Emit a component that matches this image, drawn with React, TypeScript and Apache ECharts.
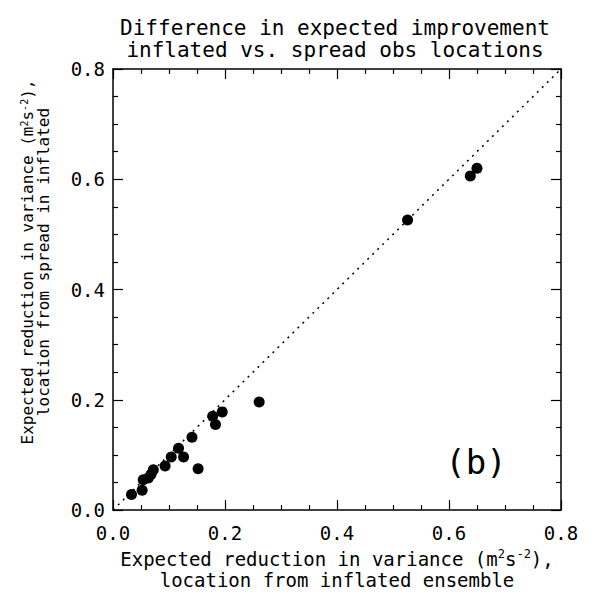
import React, { useEffect, useRef } from "react";
import * as echarts from "echarts";

const titleLines = ["Difference in expected improvement", "inflated vs. spread obs locations"];
const xAxisName = ["{n|Expected reduction in variance (m}{sup|2}{n|s}{sup|-2}{n|),}", "{n|location from inflated ensemble}"];
const yAxisName = ["{n|Expected reduction in variance (m}{sup|2}{n|s}{sup|-2}{n|),}", "{n|location from spread in inflated}"];
const panelLabel = "(b)";

// x: inflated ensemble, y: spread in inflated
const xValues = [0.033, 0.052, 0.054, 0.063, 0.068, 0.072, 0.093, 0.104, 0.117, 0.126, 0.141, 0.152, 0.178, 0.183, 0.195, 0.261, 0.526, 0.638, 0.65];
const yValues = [0.028, 0.036, 0.055, 0.058, 0.065, 0.073, 0.080, 0.096, 0.112, 0.096, 0.132, 0.075, 0.170, 0.155, 0.178, 0.196, 0.526, 0.606, 0.620];
const diagonal = [[0, 0], [0.8, 0.8]];
const axisMin = 0;
const axisMax = 0.8;
const axisInterval = 0.2;

const FONT = "DejaVu Sans Mono";

export default function App() {
  const ref = useRef<HTMLDivElement>(null);
  useEffect(() => {
    if (!ref.current) return;
    const chart = echarts.init(ref.current, undefined, { renderer: "svg" });
    const baseAxis = {
      type: "value" as const,
      min: axisMin,
      max: axisMax,
      interval: axisInterval,
      splitLine: { show: false },
      axisLine: { show: true, onZero: false, lineStyle: { color: "#000", width: 1.5 } },
      axisTick: { show: true, inside: true, length: 10, lineStyle: { color: "#000", width: 1.2 } },
      minorTick: { show: true, splitNumber: 4, length: 5, lineStyle: { color: "#000", width: 1.2 } },
      minorSplitLine: { show: false },
    };
    const labelStyle = {
      color: "#000",
      fontFamily: FONT,
      fontSize: 19,
      formatter: (v: number) => v.toFixed(1),
    };
    const richX = {
      n: { fontFamily: FONT, fontSize: 19, lineHeight: 21, color: "#000" },
      sup: { fontFamily: FONT, fontSize: 12, lineHeight: 21, color: "#000", verticalAlign: "top" as const },
    };
    const richY = {
      n: { fontFamily: FONT, fontSize: 16, lineHeight: 16, fill: "#000" },
      sup: { fontFamily: FONT, fontSize: 10, lineHeight: 16, fill: "#000", verticalAlign: "top" as const },
    };
    chart.setOption({
      animation: false,
      backgroundColor: "#fff",
      title: {
        text: titleLines.join("\n"),
        left: 330,
        top: 12,
        textAlign: "center",
        textStyle: { fontFamily: FONT, fontSize: 21, lineHeight: 22, fontWeight: "normal", color: "#000" },
      },
      grid: { left: 113, top: 69, width: 448, height: 443 },
      xAxis: [
        {
          ...baseAxis,
          position: "bottom",
          axisLabel: { ...labelStyle, margin: 13 },
          name: xAxisName.join("\n"),
          nameLocation: "middle",
          nameGap: 38,
          nameTextStyle: { color: "#000", fontFamily: FONT, fontSize: 19, lineHeight: 21, rich: richX },
        },
        { ...baseAxis, position: "top", axisLabel: { show: false } },
      ],
      yAxis: [
        { ...baseAxis, position: "left", axisLabel: { ...labelStyle, margin: 8 } },
        { ...baseAxis, position: "right", axisLabel: { show: false } },
      ],
      graphic: [
        {
          type: "text",
          x: 35,
          y: 262,
          rotation: Math.PI / 2,
          style: {
            text: yAxisName.join("\n"),
            rich: richY,
            fontFamily: FONT,
            fontSize: 16,
            lineHeight: 16,
            fill: "#000",
            textAlign: "center",
            textVerticalAlign: "middle",
          },
        },
        {
          type: "text",
          x: 476,
          y: 462,
          style: {
            text: panelLabel,
            fontFamily: FONT,
            fontSize: 34,
            fill: "#000",
            textAlign: "center",
            textVerticalAlign: "middle",
          },
        },
      ],
      series: [
        {
          type: "line",
          data: diagonal,
          xAxisIndex: 0,
          yAxisIndex: 0,
          symbol: "none",
          lineStyle: { color: "#000", width: 1.5, type: [2, 5] },
          silent: true,
        },
        {
          type: "scatter",
          data: xValues.map((x, i) => [x, yValues[i]]),
          xAxisIndex: 0,
          yAxisIndex: 0,
          symbol: "circle",
          symbolSize: 11,
          itemStyle: { color: "#000", opacity: 1 },
        },
      ],
    });
    return () => chart.dispose();
  }, []);
  return (
    <div
      ref={ref}
      style={{ position: "fixed", left: 0, top: 0, width: 595, height: 595, background: "#fff" }}
    />
  );
}
